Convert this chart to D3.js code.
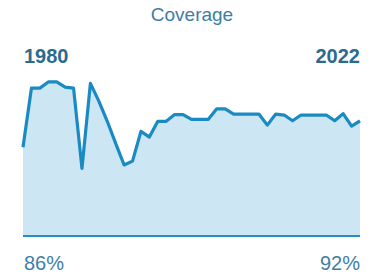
<!DOCTYPE html>
<html><head><meta charset="utf-8">
<script src="https://cdn.jsdelivr.net/npm/d3@7"></script>
<style>html,body{margin:0;padding:0;background:#fff;}svg{display:block;}</style>
</head><body>
<svg id="c" width="383" height="274"></svg>
<script>
const title = "Coverage";
const startYear = "1980";
const endYear = "2022";
const startLabel = "86%";
const endLabel = "92%";
const points = d3.range(41);
const values = [86, 98.3, 98.3, 99.6, 99.6, 98.5, 98.3, 81.6, 99.3, 95.6,
  91.4, 86.8, 82.3, 83.1, 89.3, 88.1, 91.4, 91.4, 92.8, 92.8,
  91.8, 91.8, 91.8, 94.0, 94.0, 92.9, 92.9, 92.9, 92.9, 90.6,
  92.9, 92.7, 91.5, 92.7, 92.7, 92.7, 92.7, 91.5, 93.0, 90.4, 91.5];

const svg = d3.select("#c");
const x = d3.scalePoint().domain(points).range([23, 360]);
const y = d3.scaleLinear().domain([67.5, 100]).range([236, 80]);

svg.append("path").datum(values)
  .attr("fill", "#cce6f4")
  .attr("d", d3.area().x((d,i)=>x(i)).y0(y(67.5)).y1(d=>y(d)));

svg.append("line").attr("x1", 23).attr("x2", 360).attr("y1", y(67.5)).attr("y2", y(67.5))
  .attr("stroke", "#2b8cc2").attr("stroke-width", 2);

svg.append("path").datum(values)
  .attr("fill", "none").attr("stroke", "#1a8ac3").attr("stroke-width", 3.2)
  .attr("stroke-linejoin", "round")
  .attr("d", d3.line().x((d,i)=>x(i)).y(d=>y(d)));

svg.append("text").attr("x", 192).attr("y", 21).attr("text-anchor", "middle")
  .attr("font-family", "Liberation Sans, Arial, sans-serif").attr("font-size", 19)
  .attr("fill", "#3b7ea7").text(title);
svg.append("text").attr("x", 24).attr("y", 63)
  .attr("font-family", "Liberation Sans, Arial, sans-serif").attr("font-size", 20).attr("font-weight", "bold")
  .attr("fill", "#2c6b90").text(startYear);
svg.append("text").attr("x", 360).attr("y", 63).attr("text-anchor", "end")
  .attr("font-family", "Liberation Sans, Arial, sans-serif").attr("font-size", 20).attr("font-weight", "bold")
  .attr("fill", "#2c6b90").text(endYear);
svg.append("text").attr("x", 24).attr("y", 270)
  .attr("font-family", "Liberation Sans, Arial, sans-serif").attr("font-size", 20)
  .attr("fill", "#3d7ea8").text(startLabel);
svg.append("text").attr("x", 360).attr("y", 270).attr("text-anchor", "end")
  .attr("font-family", "Liberation Sans, Arial, sans-serif").attr("font-size", 20)
  .attr("fill", "#3d7ea8").text(endLabel);
</script>
</body></html>
